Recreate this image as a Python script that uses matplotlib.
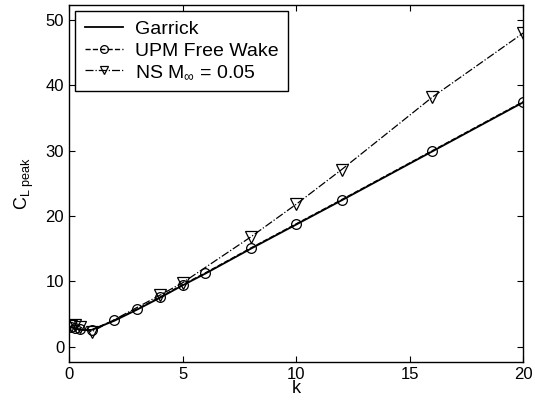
import matplotlib
matplotlib.use("Agg")
import matplotlib.pyplot as plt

# Data
k_garrick = [0, 0.1, 0.25, 0.5, 0.75, 1, 2, 3, 4, 5, 6, 8, 10, 12, 16, 20]
cl_garrick = [3.2, 3.0, 2.8, 2.6, 2.55, 2.6, 4.0, 5.7, 7.5, 9.4, 11.2, 15.0, 18.7, 22.4, 29.9, 37.4]

k_upm = [0.1, 0.25, 0.5, 1, 2, 3, 4, 5, 6, 8, 10, 12, 16, 20]
cl_upm = [3.0, 2.9, 2.7, 2.6, 4.1, 5.8, 7.6, 9.5, 11.3, 15.1, 18.8, 22.5, 30.0, 37.5]

k_ns = [0.1, 0.25, 0.5, 1, 4, 5, 8, 10, 12, 16, 20]
cl_ns = [3.2, 3.3, 3.0, 2.3, 7.9, 9.8, 16.8, 21.8, 27.1, 38.2, 48.0]

xticks = [0, 5, 10, 15, 20]
yticks = [0, 10, 20, 30, 40, 50]

plt.rcParams['font.family'] = ['Liberation Sans', 'DejaVu Sans']
plt.rcParams['mathtext.fontset'] = 'custom'
plt.rcParams['mathtext.rm'] = 'Liberation Sans'
plt.rcParams['mathtext.it'] = 'Liberation Sans:italic'

fig = plt.figure(figsize=(5.35, 4.08), dpi=100)
ax = fig.add_axes([0.129, 0.113, 0.849, 0.875])

ax.plot(k_garrick, cl_garrick, '-', color='black', lw=1.3, label='Garrick')
ax.plot(k_upm, cl_upm, '--', color='black', lw=1.0, marker='o', ms=7,
        mfc='none', mec='black', mew=0.9, label='UPM Free Wake')
ax.plot(k_ns, cl_ns, '-.', color='black', lw=0.9, marker='v', ms=8,
        mfc='none', mec='black', mew=0.9, label=r'NS M$_\infty$ = 0.05')

ax.set_xlim(0, 20)
ax.set_ylim(-2.3, 52.3)
ax.set_xticks(xticks)
ax.set_yticks(yticks)
ax.tick_params(direction='in', top=True, right=True, labelsize=12, length=4)
ax.set_xlabel('k', fontsize=13, labelpad=-1)
ax.set_ylabel(r'C$_{\mathrm{L\ peak}}$', fontsize=13, labelpad=7)
for s in ax.spines.values():
    s.set_linewidth(1.0)

leg = ax.legend(loc='upper left', fontsize=14, frameon=True, fancybox=False,
                edgecolor='black', handlelength=2.0, borderpad=0.5,
                labelspacing=0.2, handletextpad=0.6, borderaxespad=0.3,
                framealpha=1, markerscale=0.8)
leg.get_frame().set_linewidth(1.0)

fig.savefig('out.png', dpi=100)
